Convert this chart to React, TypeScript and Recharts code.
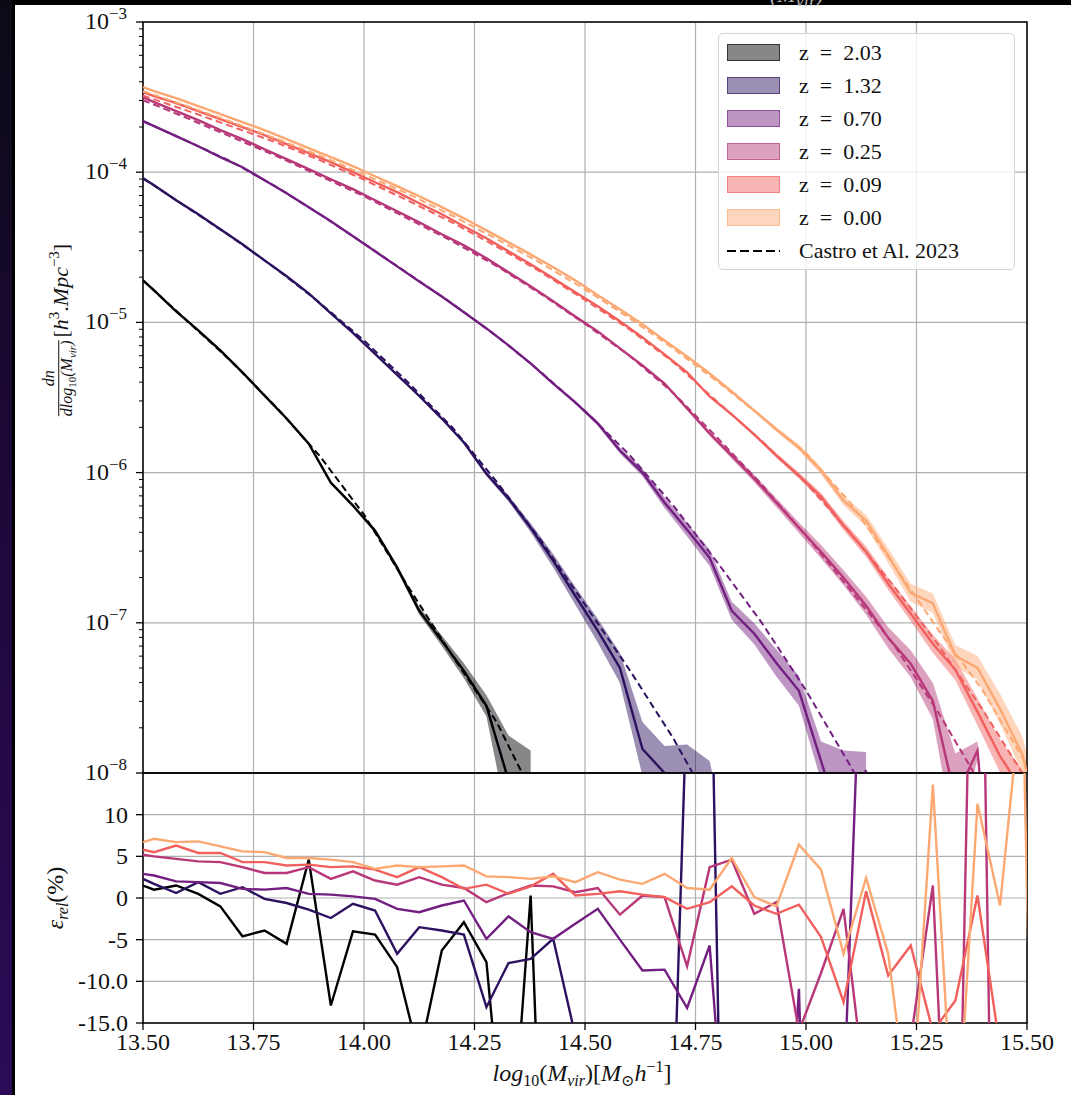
import React from 'react'
import { ComposedChart, Line, Area, XAxis, YAxis, CartesianGrid, ReferenceArea } from 'recharts'

const SERIF = '"Liberation Serif", "DejaVu Serif", "Times New Roman", serif'

// bin centres, log10(Mvir) [Msun/h]
const MASS = [
  13.5, 13.525, 13.575, 13.625, 13.675, 13.725, 13.775, 13.825, 13.875, 13.925,
  13.975, 14.025, 14.075, 14.125, 14.176, 14.226, 14.277, 14.327, 14.377, 14.428,
  14.478, 14.529, 14.579, 14.63, 14.68, 14.731, 14.782, 14.832, 14.883, 14.933,
  14.984, 15.034, 15.085, 15.136, 15.186, 15.237, 15.287, 15.338, 15.388, 15.439,
  15.49, 15.54,
]
const MODEL_MASS = [13.5, 13.6, 13.7, 13.8, 13.9, 14.0, 14.1, 14.2, 14.3, 14.4, 14.5, 14.6, 14.7, 14.8, 14.9, 15.0, 15.1, 15.2, 15.3, 15.4, 15.5]

const REDSHIFTS = ['2.03', '1.32', '0.70', '0.25', '0.09', '0.00']
const COLORS = ['#000004', '#2c115f', '#721f81', '#b73779', '#f1605d', '#fca872']

// log10 dn/dlog10(M) [h^3 Mpc^-3]
const HMF_Z203 = [-4.72, -4.787, -4.927, -5.053, -5.187, -5.333, -5.487, -5.64, -5.807, -6.067, -6.22, -6.387, -6.633, -6.92, -7.12, -7.32, -7.553, -8.05, -8.6,
  null, null, null, null, null, null, null, null, null, null, null, null, null, null, null, null, null, null, null, null, null, null, null, null]
const HMF_Z132 = [-4.04, -4.087, -4.187, -4.28, -4.38, -4.48, -4.587, -4.693, -4.807, -4.94, -5.07, -5.21, -5.35, -5.49, -5.64, -5.8, -6.007, -6.173, -6.367, -6.587,
  -6.82, -7.053, -7.3, -7.84, -8.0, -8.1, -8.2, -8.6, null, null, null, null, null, null, null, null, null, null, null, null, null, null]
const HMF_Z070 = [-3.66, -3.693, -3.76, -3.827, -3.9, -3.967, -4.053, -4.14, -4.233, -4.327, -4.427, -4.527, -4.627, -4.727, -4.827, -4.933, -5.04, -5.153, -5.273, -5.407,
  -5.533, -5.673, -5.853, -6.0, -6.2, -6.38, -6.567, -6.92, -7.073, -7.267, -7.453, -7.92, -8.4, -7.98, null, null, null, null, null, null, null, null]
const HMF_Z025 = [-3.5, -3.533, -3.593, -3.653, -3.72, -3.78, -3.847, -3.913, -3.98, -4.047, -4.113, -4.187, -4.26, -4.333, -4.413, -4.487, -4.573, -4.667, -4.76, -4.86,
  -4.96, -5.06, -5.173, -5.287, -5.407, -5.573, -5.74, -5.887, -6.04, -6.2, -6.367, -6.527, -6.7, -6.887, -7.1, -7.273, -7.52, -8.17, -7.85, -9.5, null, null]
const HMF_Z009 = [-3.467, -3.493, -3.54, -3.593, -3.647, -3.7, -3.753, -3.813, -3.873, -3.933, -4.0, -4.067, -4.133, -4.207, -4.28, -4.36, -4.44, -4.527, -4.613, -4.707,
  -4.8, -4.893, -4.993, -5.1, -5.213, -5.333, -5.493, -5.613, -5.747, -5.887, -6.02, -6.16, -6.353, -6.527, -6.74, -6.94, -7.14, -7.313, -7.593, -7.887, -8.12, -8.6]
const HMF_Z000 = [-3.433, -3.46, -3.507, -3.56, -3.613, -3.667, -3.72, -3.78, -3.84, -3.9, -3.96, -4.027, -4.093, -4.16, -4.233, -4.307, -4.387, -4.467, -4.547, -4.633,
  -4.72, -4.82, -4.913, -5.013, -5.12, -5.227, -5.34, -5.46, -5.587, -5.713, -5.833, -5.987, -6.187, -6.32, -6.553, -6.8, -6.87, -7.22, -7.3, -7.573, -7.88, -8.5]

// half width of the shaded band, dex
const ERR_Z203 = [0.005, 0.005, 0.005, 0.005, 0.005, 0.005, 0.005, 0.005, 0.005, 0.005, 0.01, 0.015, 0.02, 0.025, 0.035, 0.05, 0.07, 0.3, 0.75,
  null, null, null, null, null, null, null, null, null, null, null, null, null, null, null, null, null, null, null, null, null, null, null, null]
const ERR_Z132 = [0.005, 0.005, 0.005, 0.005, 0.005, 0.005, 0.005, 0.005, 0.005, 0.005, 0.005, 0.005, 0.005, 0.005, 0.005, 0.01, 0.015, 0.02, 0.03, 0.045,
  0.06, 0.08, 0.1, 0.18, 0.18, 0.29, 0.28, 0, null, null, null, null, null, null, null, null, null, null, null, null, null, null]
const ERR_Z070 = [0.005, 0.005, 0.005, 0.005, 0.005, 0.005, 0.005, 0.005, 0.005, 0.005, 0.005, 0.005, 0.005, 0.005, 0.005, 0.005, 0.005, 0.005, 0.005, 0.005,
  0.01, 0.015, 0.02, 0.025, 0.035, 0.045, 0.055, 0.06, 0.07, 0.09, 0.1, 0.13, 0.55, 0.12, null, null, null, null, null, null, null, null]
const ERR_Z025 = [0.005, 0.005, 0.005, 0.005, 0.005, 0.005, 0.005, 0.005, 0.005, 0.005, 0.005, 0.005, 0.005, 0.005, 0.005, 0.005, 0.005, 0.005, 0.005, 0.005,
  0.005, 0.005, 0.005, 0.005, 0.005, 0.01, 0.015, 0.02, 0.025, 0.03, 0.035, 0.045, 0.05, 0.06, 0.07, 0.09, 0.12, 0.3, 0.06, 0, null, null]
const ERR_Z009 = [0.005, 0.005, 0.005, 0.005, 0.005, 0.005, 0.005, 0.005, 0.005, 0.005, 0.005, 0.005, 0.005, 0.005, 0.005, 0.005, 0.005, 0.005, 0.005, 0.005,
  0.005, 0.005, 0.005, 0.005, 0.005, 0.005, 0.005, 0.005, 0.01, 0.015, 0.02, 0.025, 0.03, 0.035, 0.04, 0.05, 0.06, 0.07, 0.09, 0.11, 0.14, 0.2]
const ERR_Z000 = [0.005, 0.005, 0.005, 0.005, 0.005, 0.005, 0.005, 0.005, 0.005, 0.005, 0.005, 0.005, 0.005, 0.005, 0.005, 0.005, 0.005, 0.005, 0.005, 0.005,
  0.005, 0.005, 0.005, 0.005, 0.005, 0.005, 0.005, 0.005, 0.01, 0.015, 0.02, 0.025, 0.03, 0.04, 0.05, 0.06, 0.065, 0.07, 0.08, 0.1, 0.12, 0.15]

// Castro et al. 2023 model, log10
const CASTRO_Z203 = [-4.72, -4.99, -5.26, -5.56, -5.89, -6.28, -6.76, -7.22, -7.66, -8.25, null, null, null, null, null, null, null, null, null, null, null]
const CASTRO_Z132 = [-4.04, -4.235, -4.43, -4.64, -4.87, -5.12, -5.4, -5.7, -6.06, -6.45, -6.88, -7.31, -7.77, -8.3, null, null, null, null, null, null, null]
const CASTRO_Z070 = [-3.66, -3.793, -3.93, -4.095, -4.28, -4.475, -4.675, -4.875, -5.09, -5.33, -5.59, -5.88, -6.22, -6.6, -7.0, -7.45, -7.95, -8.5, null, null, null]
const CASTRO_Z025 = [-3.52, -3.64, -3.765, -3.89, -4.025, -4.16, -4.31, -4.46, -4.625, -4.81, -5.01, -5.22, -5.47, -5.77, -6.08, -6.42, -6.78, -7.15, -7.6, -8.1, null]
const CASTRO_Z009 = [-3.49, -3.59, -3.695, -3.8, -3.92, -4.05, -4.19, -4.335, -4.495, -4.665, -4.85, -5.045, -5.265, -5.53, -5.79, -6.07, -6.4, -6.76, -7.15, -7.58, -8.05]
const CASTRO_Z000 = [-3.46, -3.56, -3.665, -3.775, -3.89, -4.015, -4.145, -4.29, -4.445, -4.605, -4.78, -4.97, -5.175, -5.395, -5.63, -5.87, -6.2, -6.62, -7.05, -7.45, -7.95]

// relative error, %
const REL_Z203 = [1.5, 1.0, 1.5, 0.5, -1.0, -4.6, -3.9, -5.5, 4.6, -12.9, -4.0, -4.4, -8.3, -19, -6.3, -2.9, -7.7, -36, 0.3, -70,
  null, null, null, null, null, null, null, null, null, null, null, null, null, null, null, null, null, null, null, null, null, null]
const REL_Z132 = [2.3, 1.7, 0.6, 1.9, 0.5, 1.3, -0.1, -0.6, -1.4, -2.4, -0.7, -1.5, -6.7, -3.5, -3.9, -4.4, -13.1, -7.8, -7.3, -4.9,
  -16.5, -60, -80, -90, -60, 25, 40, -100, null, null, null, null, null, null, null, null, null, null, null, null, null, null]
const REL_Z070 = [2.9, 2.7, 2.0, 1.9, 1.8, 1.1, 1.0, 1.2, 0.5, 0.4, 0.2, -0.1, -1.3, -1.7, -0.9, -0.3, -4.9, -2.2, -4.1, -4.9,
  -3.1, -1.3, -5.0, -8.7, -8.6, -13.2, -5.7, -40, -60, -57, -10.9, -100, -25, 48, null, null, null, null, null, null, null, null]
const REL_Z025 = [5.2, 5.0, 4.7, 4.4, 4.3, 3.7, 3.0, 3.0, 3.7, 2.3, 3.2, 2.1, 1.6, 2.5, 1.6, 1.2, -0.5, 0.6, 1.5, 1.4,
  0.7, 1.2, -2.0, 0.3, 0.1, -8.2, 3.7, 4.6, -1.9, -0.5, -16, -9, -1.3, -24, -40, -17, 1.5, -57, 75, -100, null, null]
const REL_Z009 = [5.8, 5.5, 6.3, 5.4, 5.4, 4.3, 4.3, 3.9, 4.0, 3.7, 3.8, 3.4, 2.5, 3.7, 2.5, 1.1, 1.6, 0.5, 1.4, 2.9,
  0.3, 0.5, 0.8, 0.4, 0.1, -1.3, -0.5, 1.4, -0.9, -1.9, -0.8, -4.7, -12.5, 0.8, -9.3, -5.7, -16, -12.3, 0.3, -18, -40, null]
const REL_Z000 = [6.7, 7.1, 6.7, 6.8, 6.2, 5.6, 5.5, 4.8, 4.8, 4.6, 4.3, 3.5, 3.9, 3.7, 3.8, 3.9, 2.6, 2.5, 2.3, 2.6,
  1.9, 3.1, 2.2, 1.7, 2.9, 1.2, 1.0, 4.8, 0.1, -1.0, 6.4, 3.4, -6.7, 2.4, -6.7, -28, 13.6, -33, 11.3, -0.9, 26, -100]

const X_TICKS = [13.5, 13.75, 14.0, 14.25, 14.5, 14.75, 15.0, 15.25, 15.5]
const LOG_TICKS = [-8, -7, -6, -5, -4, -3]
const REL_TICKS = [-15, -10, -5, 0, 5, 10]
const REL_TICK_LABELS = ['-15.0', '-10.0', '-5', '0', '5', '10']

const HMF = [HMF_Z203, HMF_Z132, HMF_Z070, HMF_Z025, HMF_Z009, HMF_Z000]
const ERR = [ERR_Z203, ERR_Z132, ERR_Z070, ERR_Z025, ERR_Z009, ERR_Z000]
const CASTRO = [CASTRO_Z203, CASTRO_Z132, CASTRO_Z070, CASTRO_Z025, CASTRO_Z009, CASTRO_Z000]
const REL = [REL_Z203, REL_Z132, REL_Z070, REL_Z025, REL_Z009, REL_Z000]

const upperRows = MASS.map((m, i) => {
  const row: any = { m }
  HMF.forEach((s, k) => {
    const v = s[i]
    const e = ERR[k][i]
    row['s' + k] = v
    row['b' + k] = v == null || e == null ? null : [v - e, v + e]
  })
  return row
})
const modelRows = MODEL_MASS.map((m, i) => {
  const row: any = { m }
  CASTRO.forEach((s, k) => { row['c' + k] = s[i] })
  return row
})
const relRows = MASS.map((m, i) => {
  const row: any = { m }
  REL.forEach((s, k) => { row['r' + k] = s[i] })
  return row
})

// minor log ticks 2..9 in every decade
const MINOR_TICKS = LOG_TICKS.slice(0, -1).flatMap(d => [2, 3, 4, 5, 6, 7, 8, 9].map(k => d + Math.log10(k)))

const BAND_ALPHA = 0.47
const withAlpha = (hex: string, a: number) => {
  const n = parseInt(hex.slice(1), 16)
  return `rgba(${(n >> 16) & 255},${(n >> 8) & 255},${n & 255},${a})`
}

const LogTick = (props: any) => {
  const { x, y, payload } = props
  const v = payload.value as number
  const major = Math.abs(v - Math.round(v)) < 1e-6
  if (!major) return <line x1={x - 4} x2={x} y1={y} y2={y} stroke="#000" strokeWidth={1} />
  return (
    <g>
      <line x1={x - 7} x2={x} y1={y} y2={y} stroke="#000" strokeWidth={1.3} />
      <text x={x - 16} y={y + 7} textAnchor="end" fontFamily={SERIF} fontSize={24} fill="#111">
        10<tspan fontSize={17} dy={-10}>{'\u2212' + Math.abs(Math.round(v))}</tspan>
      </text>
    </g>
  )
}

const RelTick = (props: any) => {
  const { x, y, payload } = props
  const label = REL_TICK_LABELS[REL_TICKS.indexOf(payload.value)]
  return (
    <g>
      <line x1={x - 7} x2={x} y1={y} y2={y} stroke="#000" strokeWidth={1.3} />
      <text x={x - 15} y={y + 8} textAnchor="end" fontFamily={SERIF} fontSize={24} fill="#111">{label}</text>
    </g>
  )
}

const MassTick = (props: any) => {
  const { x, y, payload } = props
  return (
    <g>
      <line x1={x} x2={x} y1={y} y2={y + 7} stroke="#000" strokeWidth={1.3} />
      <text x={x} y={y + 27} textAnchor="middle" fontFamily={SERIF} fontSize={24} fill="#111">{payload.value.toFixed(2)}</text>
    </g>
  )
}

function HmfLegend() {
  return (
    <div style={{
      position: 'absolute', left: 718, top: 33, width: 297, height: 237, boxSizing: 'border-box',
      background: 'rgba(255,255,255,0.8)', border: '1px solid #d4d4d4', borderRadius: 5, paddingTop: 2,
      fontFamily: SERIF, color: '#111',
    }}>
      {REDSHIFTS.map((z, k) => (
        <div key={z} style={{ height: 33, display: 'flex', alignItems: 'center' }}>
          <div style={{
            marginLeft: 8, width: 53, height: 17, boxSizing: 'border-box',
            background: withAlpha(COLORS[k], BAND_ALPHA), border: `1px solid ${withAlpha(COLORS[k], 0.6)}`,
          }} />
          <span style={{ marginLeft: 19, fontSize: 22 }}>{'z\u2002=\u2002' + z}</span>
        </div>
      ))}
      <div style={{ height: 33, display: 'flex', alignItems: 'center' }}>
        <svg width={53} height={6} style={{ marginLeft: 8 }}>
          <line x1={0} x2={53} y1={3} y2={3} stroke="#000" strokeWidth={2.2} strokeDasharray="9 4" />
        </svg>
        <span style={{ marginLeft: 19, fontSize: 22 }}>Castro et Al. 2023</span>
      </div>
    </div>
  )
}

export default function App() {
  return (
    <div style={{ position: 'absolute', left: 0, top: 0, width: 1071, height: 1095, background: '#000', overflow: 'hidden', fontFamily: SERIF }}>
      <div style={{ position: 'absolute', left: 0, top: 0, width: 12, height: 1095, background: 'linear-gradient(#0b0b16, #1c0836 40%, #2c0b58)' }} />
      <div style={{ position: 'absolute', left: 15, top: 5, right: 0, bottom: 0, background: '#fff' }} />
      <div style={{ position: 'absolute', left: 770, top: 0, width: 90, height: 6, overflow: 'hidden' }}>
        <span style={{ position: 'relative', top: -18, fontSize: 22, color: '#bbb', fontStyle: 'italic' }}>(M<sub>vir</sub>)</span>
      </div>

      <div style={{ position: 'absolute', left: 0, top: 0 }}>
        <ComposedChart width={1071} height={780} data={upperRows} margin={{ top: 22, right: 44, bottom: 7, left: 0 }}>
          <CartesianGrid stroke="#b0b0b0" strokeWidth={1.2} horizontalValues={LOG_TICKS} verticalValues={X_TICKS} />
          <XAxis dataKey="m" type="number" domain={[13.5, 15.5]} ticks={X_TICKS} allowDataOverflow hide height={0} />
          <YAxis type="number" domain={[-8, -3]} ticks={[...LOG_TICKS, ...MINOR_TICKS]} interval={0} allowDataOverflow
            width={143} axisLine={false} tickLine={false} tickSize={0} tickMargin={0} tick={LogTick} />
          {REDSHIFTS.map((z, k) => (
            <Area key={'b' + z} dataKey={'b' + k} type="linear" stroke="none" fill={COLORS[k]} fillOpacity={BAND_ALPHA}
              isAnimationActive={false} dot={false} activeDot={false} />
          ))}
          {REDSHIFTS.map((z, k) => (
            <Line key={'s' + z} dataKey={'s' + k} type="linear" stroke={COLORS[k]} strokeWidth={2.4}
              dot={false} activeDot={false} isAnimationActive={false} />
          ))}
          {REDSHIFTS.map((z, k) => (
            <Line key={'c' + z} data={modelRows} dataKey={'c' + k} type="linear" stroke={COLORS[k]} strokeWidth={2}
              strokeDasharray="7 4" dot={false} activeDot={false} isAnimationActive={false} />
          ))}
          <ReferenceArea x1={13.5} x2={15.5} y1={-8} y2={-3} fill="none" stroke="#000" strokeWidth={1.5} />
        </ComposedChart>
      </div>

      <div style={{ position: 'absolute', left: 0, top: 740 }}>
        <ComposedChart width={1071} height={355} data={relRows} margin={{ top: 33, right: 44, bottom: 0, left: 0 }}>
          <CartesianGrid stroke="#b0b0b0" strokeWidth={1.2} horizontalValues={REL_TICKS} verticalValues={X_TICKS} />
          <XAxis dataKey="m" type="number" domain={[13.5, 15.5]} ticks={X_TICKS} interval={0} allowDataOverflow
            height={72} axisLine={false} tickLine={false} tickSize={0} tickMargin={0} tick={MassTick} />
          <YAxis type="number" domain={[-15, 15]} ticks={REL_TICKS} interval={0} allowDataOverflow
            width={143} axisLine={false} tickLine={false} tickSize={0} tickMargin={0} tick={RelTick} />
          {REDSHIFTS.map((z, k) => (
            <Line key={'r' + z} dataKey={'r' + k} type="linear" stroke={COLORS[k]} strokeWidth={2.4}
              dot={false} activeDot={false} isAnimationActive={false} />
          ))}
          <ReferenceArea x1={13.5} x2={15.5} y1={-15} y2={15} fill="none" stroke="#000" strokeWidth={1.5} />
        </ComposedChart>
      </div>

      <HmfLegend />

      <div style={{
        position: 'absolute', left: 60, top: 330, transform: 'translate(-50%, -50%) rotate(-90deg)',
        display: 'flex', alignItems: 'center', whiteSpace: 'nowrap', color: '#111',
      }}>
        <span style={{ display: 'inline-flex', flexDirection: 'column', alignItems: 'stretch', fontSize: 16, fontStyle: 'italic', lineHeight: 1.05, marginRight: 3 }}>
          <span style={{ textAlign: 'center' }}>dn</span>
          <span style={{ height: 1, background: '#111' }} />
          <span style={{ textAlign: 'center' }}>dlog<sub style={{ fontStyle: 'normal', fontSize: 11 }}>10</sub>(M<sub style={{ fontSize: 11 }}>vir</sub>)</span>
        </span>
        <span style={{ fontSize: 22 }}>[<i>h</i><sup style={{ fontSize: 15 }}>3</sup>.<i>Mpc</i><sup style={{ fontSize: 15 }}>{'\u22123'}</sup>]</span>
      </div>

      <div style={{
        position: 'absolute', left: 57, top: 898, transform: 'translate(-50%, -50%) rotate(-90deg)',
        whiteSpace: 'nowrap', color: '#111', fontSize: 24,
      }}>
        <i>ε</i><sub style={{ fontSize: 16, fontStyle: 'italic' }}>rel</sub>(%)
      </div>

      <div style={{
        position: 'absolute', left: 582, top: 1074, transform: 'translate(-50%, -50%)',
        whiteSpace: 'nowrap', color: '#111', fontSize: 24,
      }}>
        <i>log</i><sub style={{ fontSize: 16 }}>10</sub>(<i>M</i><sub style={{ fontSize: 16, fontStyle: 'italic' }}>vir</sub>)[<i>M</i><sub style={{ fontSize: 16 }}>⊙</sub><i>h</i><sup style={{ fontSize: 16 }}>{'\u22121'}</sup>]
      </div>
    </div>
  )
}
